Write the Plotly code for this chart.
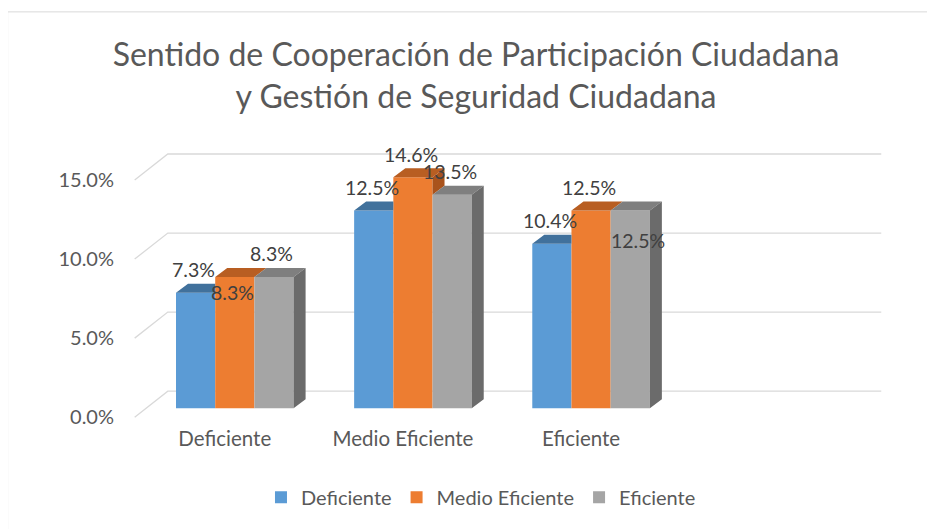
import plotly.graph_objects as go

# datos
categorias = ["Deficiente", "Medio Eficiente", "Eficiente"]
series = ["Deficiente", "Medio Eficiente", "Eficiente"]
deficiente = [7.3, 12.5, 10.4]
medio_eficiente = [8.3, 14.6, 12.5]
eficiente = [8.3, 13.5, 12.5]
y_ticks = [0, 5, 10, 15]
y_tick_text = ["0.0%", "5.0%", "10.0%", "15.0%"]

valores = [deficiente, medio_eficiente, eficiente]
frente = ["#5B9BD5", "#ED7D31", "#A5A5A5"]
arriba = ["#41719C", "#B85E22", "#7F7F7F"]
lado = ["#3E6C95", "#A9531C", "#6B6B6B"]

W, H = 935, 529
OFF = 8        # margen del body en la pagina
px_x = 178.0   # pixeles por categoria
px_y = 15.8    # pixeles por 1%
x_rng = [-0.65, 3.65]
y_rng = [-1.0, 16.96]
cx0 = 235 - OFF    # centro de la primera categoria
y0px = 408 - OFF   # base de las barras
m_l = cx0 + x_rng[0] * px_x
m_r = W - (m_l + (x_rng[1] - x_rng[0]) * px_x)
m_t = y0px - y_rng[1] * px_y
m_b = H - (y0px - y_rng[0] * px_y)

bw = 0.22
dx = 12 / px_x
dy = 9 / px_y

fig = go.Figure()
for i, s in enumerate(series):
    fig.add_trace(go.Bar(
        x=list(range(len(categorias))), y=valores[i], name=s,
        width=bw, offset=-1.5 * bw + i * bw,
        marker=dict(color=frente[i], line=dict(width=0)),
    ))

# caras superiores y laterales (efecto 3D)
for i in range(3):
    tx, ty, sx, sy = [], [], [], []
    for c in range(len(categorias)):
        v = valores[i][c]
        x0 = c - 1.5 * bw + i * bw
        x1 = x0 + bw
        sig = valores[i + 1][c] if i < 2 else None
        if sig is not None and sig > v:
            tx += [x0, x1, x1, x0 + dx, x0, None]
            ty += [v, v, v + dy, v + dy, v, None]
        else:
            tx += [x0, x1, x1 + dx, x0 + dx, x0, None]
            ty += [v, v, v + dy, v + dy, v, None]
        bajo = 0 if sig is None else min(sig, v)
        if bajo < v:
            sx += [x1, x1, x1 + dx, x1 + dx, x1, None]
            sy += [bajo, v, v + dy, bajo + dy, bajo, None]
    fig.add_trace(go.Scatter(x=tx, y=ty, fill="toself", fillcolor=arriba[i], mode="lines",
                             line=dict(width=0, color=arriba[i]), showlegend=False, hoverinfo="skip"))
    if sx:
        fig.add_trace(go.Scatter(x=sx, y=sy, fill="toself", fillcolor=lado[i], mode="lines",
                                 line=dict(width=0, color=lado[i]), showlegend=False, hoverinfo="skip"))

# lineas de cuadricula en perspectiva
xf, xb, xr = -0.562, -0.376, 3.629
yf, yb = -9 / px_y, 17 / px_y
for v in y_ticks:
    fig.add_shape(type="path", layer="below",
                  path=f"M {xf},{v + yf} L {xb},{v + yb} L {xr},{v + yb}",
                  line=dict(color="#D9D9D9", width=1.3))

# etiquetas de datos
ajuste = {(1, 0): (0, -16), (2, 2): (10, -30)}
for i in range(3):
    for c in range(len(categorias)):
        v = valores[i][c]
        xs, ys = ajuste.get((i, c), (0, 23))
        fig.add_annotation(x=c - bw + i * bw, y=v, text=f"{v:.1f}%", showarrow=False,
                           xshift=xs - 2, yshift=ys, font=dict(size=19.5, color="#404040"))

# borde del grafico
pw = W - m_l - m_r
ph = H - m_t - m_b
fig.add_shape(type="rect", xref="paper", yref="paper",
              x0=(7 - OFF + 1 - m_l) / pw, x1=(W + 20 - m_l) / pw,
              y0=(H - m_b - (H + 20)) / ph, y1=(H - m_b - (12 - OFF)) / ph,
              line=dict(color="#D9D9D9", width=1))

fig.update_layout(
    width=W, height=H,
    margin=dict(l=m_l, r=m_r, t=m_t, b=m_b, autoexpand=False),
    paper_bgcolor="white", plot_bgcolor="white",
    barmode="overlay",
    font=dict(family="Lato", color="#595959"),
    title=dict(text="Sentido de Cooperación de Participación Ciudadana<br>y Gestión de Seguridad Ciudadana",
               x=(476 - OFF) / W, xanchor="center", y=1 - (66 - OFF) / H, yanchor="middle",
               font=dict(size=32, color="#595959")),
    xaxis=dict(range=x_rng, tickvals=list(range(len(categorias))), ticktext=categorias,
               showgrid=False, zeroline=False, showline=False, ticks="", automargin=False,
               ticklabelshift=-10, tickfont=dict(size=20.5, color="#595959")),
    yaxis=dict(range=y_rng, tickvals=y_ticks, ticktext=y_tick_text, showgrid=False,
               zeroline=False, showline=False, ticks="", ticklabelshift=9, automargin=False,
               ticklabelstandoff=4, tickfont=dict(size=20, color="#595959")),
    legend=dict(orientation="h", x=(481 - OFF - m_l) / pw, xanchor="center",
                y=(H - m_b - (497 - OFF)) / ph, yanchor="middle",
                font=dict(size=20, color="#595959"), itemwidth=30, tracegroupgap=0),
)

fig.write_html("out.html")
